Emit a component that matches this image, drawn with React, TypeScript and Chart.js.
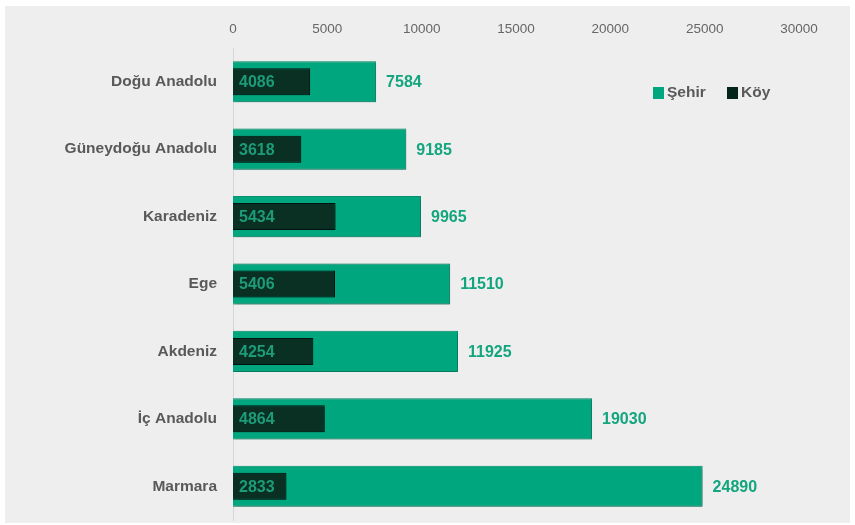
import React, { useEffect, useRef } from "react";
import { Chart, registerables } from "chart.js";

Chart.register(...registerables);

const categories = ["Doğu Anadolu", "Güneydoğu Anadolu", "Karadeniz", "Ege", "Akdeniz", "İç Anadolu", "Marmara"];
const sehirValues = [7584, 9185, 9965, 11510, 11925, 19030, 24890];
const koyValues = [4086, 3618, 5434, 5406, 4254, 4864, 2833];
const seriesNames = ["Şehir", "Köy"];

const FONT = "'Liberation Sans', Arial, sans-serif";
const GREEN = "#00a67e";
const DARK = "#0a3024";
const GRAY_TEXT = "#595959";

const bgPlugin = {
  id: "bgPanel",
  beforeDraw(chart: any) {
    const { ctx } = chart;
    ctx.save();
    ctx.fillStyle = "#ffffff";
    ctx.fillRect(0, 0, chart.width, chart.height);
    ctx.fillStyle = "#eeeeee";
    ctx.fillRect(5, 6, 845, 517);
    ctx.restore();
  },
};

const labelPlugin = {
  id: "valueLabels",
  afterDatasetsDraw(chart: any) {
    const { ctx, chartArea } = chart;
    ctx.save();
    ctx.font = `bold 16px ${FONT}`;
    ctx.textBaseline = "middle";
    ctx.textAlign = "left";
    chart.data.datasets.forEach((ds: any, i: number) => {
      const meta = chart.getDatasetMeta(i);
      meta.data.forEach((el: any, j: number) => {
        const v = ds.data[j];
        if (ds.label === seriesNames[0]) {
          ctx.fillStyle = "#13a57e";
          ctx.fillText(String(v), el.x + 10, el.y + 1);
        } else {
          ctx.fillStyle = "#1c9c77";
          ctx.fillText(String(v), chartArea.left + 6, el.y + 1);
        }
      });
    });
    // legend
    ctx.font = `bold 15.5px ${FONT}`;
    const ly = 93;
    ctx.fillStyle = GREEN;
    ctx.fillRect(653, ly - 6, 11, 12);
    ctx.fillStyle = GRAY_TEXT;
    ctx.fillText(seriesNames[0], 667, ly);
    ctx.fillStyle = "#05241a";
    ctx.fillRect(727, ly - 6, 11, 12);
    ctx.fillStyle = GRAY_TEXT;
    ctx.fillText(seriesNames[1], 741, ly);
    ctx.restore();
  },
};

const shadowPlugin = {
  id: "barShadow",
  beforeDatasetDraw(chart: any) {
    const ctx = chart.ctx;
    ctx.save();
    ctx.shadowColor = "rgba(0,0,0,0.35)";
    ctx.shadowBlur = 3;
    ctx.shadowOffsetX = 1;
    ctx.shadowOffsetY = 1;
  },
  afterDatasetDraw(chart: any) {
    chart.ctx.restore();
  },
};

export default function App() {
  const ref = useRef<HTMLCanvasElement | null>(null);
  useEffect(() => {
    document.body.style.margin = "0";
    const canvas = ref.current!;
    const chart = new Chart(canvas, {
      type: "bar",
      data: {
        labels: categories,
        datasets: [
          {
            label: seriesNames[1],
            data: koyValues,
            backgroundColor: DARK,
            borderColor: "#021510",
            borderWidth: 1,
            grouped: false,
            order: 0,
            barPercentage: 0.4,
            categoryPercentage: 1,
          } as any,
          {
            label: seriesNames[0],
            data: sehirValues,
            backgroundColor: GREEN,
            borderColor: "#0a9572",
            borderWidth: 1,
            grouped: false,
            order: 1,
            barPercentage: 0.61,
            categoryPercentage: 1,
          } as any,
        ],
      },
      options: {
        indexAxis: "y",
        animation: false,
        responsive: false,
        maintainAspectRatio: false,
        layout: { padding: { top: 0, right: 56, bottom: 5, left: 0 } },
        plugins: { legend: { display: false }, tooltip: { enabled: false } },
        scales: {
          x: {
            position: "top",
            min: 0,
            max: 30000,
            ticks: {
              stepSize: 5000,
              color: "#666666",
              font: { family: FONT, size: 13.5 },
              padding: 11,
              maxRotation: 0,
              callback: (v: any) => String(v),
            },
            grid: { display: false, drawTicks: false },
            border: { display: false },
            afterFit(scale: any) {
              scale.height = 48;
              scale.paddingLeft = 0;
              scale.paddingRight = 0;
            },
          } as any,
          y: {
            ticks: {
              color: GRAY_TEXT,
              font: { family: FONT, size: 15.5, weight: "bold" },
              padding: 16,
            },
            grid: { display: false, drawTicks: false },
            border: { display: true, color: "#d6d6d6", width: 1 },
            afterFit(scale: any) {
              scale.width = 233;
              scale.paddingTop = 0;
              scale.paddingBottom = 0;
            },
          } as any,
        },
      },
      plugins: [bgPlugin, shadowPlugin, labelPlugin],
    });
    return () => chart.destroy();
  }, []);
  return (
    <div style={{ position: "fixed", left: 0, top: 0, width: 855, height: 525, background: "#fff" }}>
      <canvas ref={ref} width={855} height={525} style={{ display: "block", width: 855, height: 525 }} />
    </div>
  );
}
